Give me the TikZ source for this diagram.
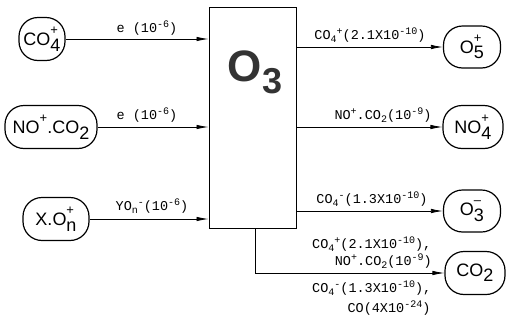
\documentclass[tikz,border=0pt]{standalone}
\usepackage{fontspec}
\setmainfont{Liberation Sans}
\newfontfamily\lblfont{Liberation Mono}
\usetikzlibrary{arrows.meta}
\newcommand\chemsp[2]{\makebox[0pt][l]{\raisebox{0.62em}{\fontsize{13}{13}\selectfont #2}}\raisebox{-0.3em}{#1}}
\newcommand\chemup[1]{\raisebox{0.62em}{\fontsize{13}{13}\selectfont #1}}
\newcommand\chemsb[1]{\raisebox{-0.3em}{#1}}
\newcommand\lup[1]{\raisebox{0.4em}{\fontsize{10}{10}\selectfont #1}}
\newcommand\ldn[1]{\raisebox{-0.2em}{\fontsize{10}{10}\selectfont #1}}
\begin{document}
\begin{tikzpicture}[x=1pt,y=-1pt,
  spc/.style={draw, line width=1.2pt, rounded corners=19pt, inner sep=0pt,
    minimum height=43pt, font=\fontsize{18}{18}\selectfont},
  lbl/.style={font=\lblfont\fontsize{13.5}{13.5}\selectfont, inner sep=0pt},
  arr/.style={line width=0.8pt, -{Latex[length=12pt,width=4.5pt]}},
  tank/.style={draw, line width=1pt, minimum width=87pt, minimum height=221pt, inner sep=0pt}]
\useasboundingbox (0,0) rectangle (507,322);
% central box
\node[tank] (box) at (252.5,117.5) {};
\node[font=\fontsize{44}{44}\selectfont\bfseries, text=black!80, inner sep=0pt] (o3) at (255,72)
  {O\raisebox{-0.28em}{\fontsize{36}{36}\selectfont 3}};
% left species
\node[spc, minimum width=46pt] (co4) at (42,39) {CO\chemsp{4}{+}};
\node[spc, minimum width=92pt] (noco) at (51,127) {NO\chemup{+}.CO\chemsb{2}};
\node[spc, minimum width=66pt] (xon) at (56,219) {X.O\chemsp{n}{+}};
% right species
\node[spc, minimum width=57pt, minimum height=42pt] (o5) at (472,47) {O\chemsp{5}{+}};
\node[spc, minimum width=60pt, minimum height=43pt] (no4) at (473,127) {NO\chemsp{4}{+}};
\node[spc, minimum width=57pt, minimum height=42pt] (o3m) at (472,211) {O\chemsp{3}{--}};
\node[spc, minimum width=60pt, minimum height=43pt] (co2) at (475,273) {CO\chemsb{2}};
% inputs
\draw[arr] (co4.east) -- (co4.east -| box.west);
\draw[arr] (noco.east) -- (noco.east -| box.west);
\draw[arr] (xon.east) -- (xon.east -| box.west);
% outputs
\draw[arr] (box.east |- o5) -- (o5.west);
\draw[arr] (box.east |- no4) -- (no4.west);
\draw[arr] (box.east |- o3m) -- (o3m.west);
\coordinate (bend) at (255,273);
\draw[arr] (box.south -| bend) |- (co2.west);
% labels
\node[lbl] (l1) at (147,28) {e (10\lup{-6})};
\node[lbl] (l2) at (147,115) {e (10\lup{-6})};
\node[lbl] (l3) at (152,206) {YO\ldn{n}\lup{-}(10\lup{-6})};
\node[lbl] (r1) at (370,35) {CO\ldn{4}\lup{+}(2.1X10\lup{-10})};
\node[lbl] (r2) at (383,115) {NO\lup{+}.CO\ldn{2}(10\lup{-9})};
\node[lbl] (r3) at (372,199) {CO\ldn{4}\lup{-}(1.3X10\lup{-10})};
\node[lbl, anchor=west] (b1) at (312,244) {CO\ldn{4}\lup{+}(2.1X10\lup{-10}),};
\node[lbl, anchor=east] (b2) at (432,261) {NO\lup{+}.CO\ldn{2}(10\lup{-9})};
\node[lbl, anchor=west] (b3) at (312,288) {CO\ldn{4}\lup{-}(1.3X10\lup{-10}),};
\node[lbl] (b4) at (389,308) {CO(4X10\lup{-24})};
\end{tikzpicture}
\end{document}
